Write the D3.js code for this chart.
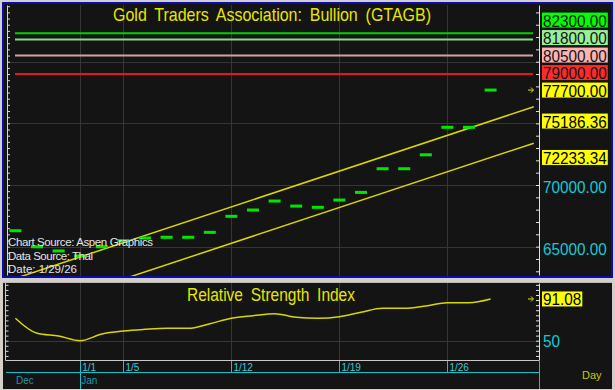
<!DOCTYPE html>
<meta charset="utf-8">
<title>Gold Traders Association: Bullion (GTAGB)</title>
<style>

body {
  margin: 0;
  background: #d4d0c8;
}

svg {
  display: block;
  font-family: "Liberation Sans", Arial, sans-serif;
}

</style>
<body>
<script src="https://d3js.org/d3.v7.min.js"></script>
<script>

// trading days shown on the chart (index = position on the x axis)
var days = ["12/29", "12/30", "12/31", "1/1", "1/2", "1/5", "1/6", "1/7", "1/8", "1/9",
  "1/12", "1/13", "1/14", "1/15", "1/16", "1/19", "1/20", "1/21", "1/22", "1/23",
  "1/26", "1/27", "1/28"];

var closes = [66290, 64990, 64650, 64240, 64990, 65480, 65700, 65760, 65760, 66160,
  67460, 67970, 68700, 68290, 68190, 68780, 69400, 71320, 71320, 72450,
  74680, 74680, 77700];

var rsi = [72.1, 57.3, 54.6, 50.0, 56.6, 59.6, 61.2, 62.2, 62.2, 66.7,
  72.1, 74.6, 76.6, 73.0, 72.1, 73.6, 78.0, 81.9, 81.9, 84.2,
  87.4, 87.4, 91.08];

var weekTicks = ["1/1", "1/5", "1/12", "1/19", "1/26"];
var monthNames = ["Dec", "Jan"];
var monthStarts = ["12/29", "1/1"];

// horizontal price levels
var levels = [82300, 81800, 80500, 79000];
var levelLine = ["#00d000", "#86dc86", "#d0a4a4", "#e41818"];
var levelBox = ["#00ff00", "#98f098", "#ffb4b4", "#ff2a2a"];

// regression channel: [day index, value] at both ends
var channelUpper = [[0, 62426.36], [24, 76346.36]];
var channelLower = [[0, 59473.34], [24, 73393.34]];
var channelAtLast = [75186.36, 72233.34];

var priceTicks = [65000, 70000, 75000, 80000];
var rsiTicks = [50];

var notes = ["Chart Source: Aspen Graphics", "Data Source: Thai", "Date: 1/29/26"];

var svg = d3.select("body")
  .append("svg")
  .attr("width", 615)
  .attr("height", 390);

var left = 7, right = 539;
var lastIdx = days.length - 1;

var x = d3.scaleLinear().domain([0, 24]).range([15.4, 533.8]);
var y = d3.scaleLinear().domain([62700, 84600]).range([275, 5]);
var yr = d3.scaleLinear().domain([31, 106.8]).range([360, 283]);

function dx(day) { return x(days.indexOf(day)); }

// panels
svg.append("rect")
  .attr("x", 3).attr("y", 3).attr("width", 609).attr("height", 274)
  .attr("fill", "#141414")
  .attr("stroke", "#0c0cb4").attr("stroke-width", 2);

svg.append("rect")
  .attr("x", 3).attr("y", 282).attr("width", 609).attr("height", 107)
  .attr("fill", "#141414");
svg.append("line")
  .attr("x1", 3).attr("x2", 612).attr("y1", 282.5).attr("y2", 282.5)
  .attr("stroke", "#b8b8b8");

var defs = svg.append("defs");
defs.append("clipPath").attr("id", "clipMain")
  .append("rect").attr("x", left).attr("y", 5).attr("width", right - left).attr("height", 271);
defs.append("clipPath").attr("id", "clipRsi")
  .append("rect").attr("x", left).attr("y", 283).attr("width", right - left).attr("height", 77);

// grid
var grid = svg.append("g").attr("stroke", "#363636").attr("stroke-width", 1);
grid.selectAll(".hg").data(priceTicks).enter().append("line")
  .attr("x1", left).attr("x2", right)
  .attr("y1", function(d) { return Math.round(y(d)) + 0.5; })
  .attr("y2", function(d) { return Math.round(y(d)) + 0.5; });
grid.selectAll(".vg").data(weekTicks).enter().append("line")
  .attr("x1", function(d) { return Math.round(dx(d)) + 0.5; })
  .attr("x2", function(d) { return Math.round(dx(d)) + 0.5; })
  .attr("y1", 5).attr("y2", 276);
grid.selectAll(".rg").data(rsiTicks).enter().append("line")
  .attr("x1", left).attr("x2", right)
  .attr("y1", function(d) { return Math.round(yr(d)) + 0.5; })
  .attr("y2", function(d) { return Math.round(yr(d)) + 0.5; });
grid.selectAll(".rvg").data(weekTicks).enter().append("line")
  .attr("x1", function(d) { return Math.round(dx(d)) + 0.5; })
  .attr("x2", function(d) { return Math.round(dx(d)) + 0.5; })
  .attr("y1", 283).attr("y2", 360);

// main panel marks
var main = svg.append("g").attr("clip-path", "url(#clipMain)");

main.selectAll(".level").data(levels).enter().append("line")
  .attr("x1", 15).attr("x2", 533)
  .attr("y1", function(d) { return y(d); })
  .attr("y2", function(d) { return y(d); })
  .attr("stroke", function(d, i) { return levelLine[i]; })
  .attr("stroke-width", 2);

var chanLine = d3.line()
  .x(function(d) { return x(d[0]); })
  .y(function(d) { return y(d[1]); });

main.selectAll(".chan").data([channelUpper, channelLower]).enter().append("path")
  .attr("d", chanLine)
  .attr("fill", "none")
  .attr("stroke", "#d8d800")
  .attr("stroke-width", 1.5);

main.selectAll(".bar").data(closes).enter().append("rect")
  .attr("x", function(d, i) { return x(i) - 6; })
  .attr("y", function(d) { return y(d) - 1.5; })
  .attr("width", 12).attr("height", 3)
  .attr("fill", "#00e600");

// left tick axis (main)
svg.append("g")
  .attr("transform", "translate(" + left + ",0)")
  .call(d3.axisRight(y).tickValues(d3.range(63000, 84600, 500)).tickSize(3).tickSizeOuter(0).tickFormat(""))
  .call(function(g) { g.selectAll("line,path").attr("stroke", "#d8d8d8"); });

// right tick axis (main)
svg.append("g")
  .attr("transform", "translate(" + right + ",0)")
  .call(d3.axisLeft(y).tickValues(d3.range(63000, 84600, 1000)).tickSize(3).tickSizeOuter(0).tickFormat(""))
  .call(function(g) { g.selectAll("line,path").attr("stroke", "#e0e0e0"); });

// title
svg.append("text")
  .attr("x", 113).attr("y", 21)
  .attr("textLength", 318).attr("lengthAdjust", "spacingAndGlyphs")
  .attr("fill", "#e6e600")
  .attr("font-size", 19)
  .attr("word-spacing", 4)
  .text("Gold Traders Association: Bullion (GTAGB)");

// notes lower left
svg.selectAll(".note").data(notes).enter().append("text")
  .attr("x", 8)
  .attr("y", function(d, i) { return [246, 259.5, 273][i]; })
  .attr("textLength", function(d, i) { return [145, 85, 69][i]; })
  .attr("lengthAdjust", "spacing")
  .attr("fill", "#e4e4e4")
  .attr("font-size", 11.5)
  .text(function(d) { return d; });

// value labels on the right, stacked so they do not overlap
var valueLabels = levels.map(function(v, i) { return {v: v, text: v.toFixed(2), bg: levelBox[i], fg: "#141414"}; })
  .concat([{v: closes[lastIdx], text: closes[lastIdx].toFixed(2), bg: "#ffff00", fg: "#000", arrow: true}])
  .concat(channelAtLast.map(function(v) { return {v: v, text: v.toFixed(2), bg: "#ffff00", fg: "#000"}; }));

valueLabels.forEach(function(d) { d.y = y(d.v); });
valueLabels.sort(function(a, b) { return b.y - a.y; });
var gap = 17.5;
for (var i = 1; i < valueLabels.length; i++) {
  valueLabels[i].y = Math.min(valueLabels[i].y, valueLabels[i - 1].y - gap);
}

function drawLabel(g, d, size) {
  var t = g.append("text")
    .attr("x", 543).attr("y", d.y + 6.5)
    .attr("font-size", size)
    .attr("fill", d.fg)
    .text(d.text);
  var w = t.node().getComputedTextLength() * 0.9;
  t.attr("textLength", w).attr("lengthAdjust", "spacingAndGlyphs");
  if (d.bg) {
    g.insert("rect", "text")
      .attr("x", 542).attr("y", d.y - 7.5)
      .attr("width", w + 2).attr("height", 15)
      .attr("fill", d.bg);
  }
  if (d.arrow) {
    g.append("path")
      .attr("d", "M528," + d.y + "h5M531," + (d.y - 2.5) + "l2.5,2.5l-2.5,2.5")
      .attr("fill", "none").attr("stroke", "#e6e600");
  }
}

valueLabels.forEach(function(d) { drawLabel(svg.append("g"), d, 17); });

// axis numbers that have room
priceTicks.forEach(function(v) {
  var free = valueLabels.every(function(d) { return Math.abs(d.y - y(v)) > 16; });
  if (free) drawLabel(svg.append("g"), {y: y(v) + 1.5, text: v.toFixed(2), fg: "#16c8d4"}, 17);
});

// RSI panel
svg.append("path")
  .attr("d", "M5.5,283V360.5H" + right)
  .attr("fill", "none").attr("stroke", "#c8c8c8");

svg.append("g")
  .attr("transform", "translate(5.5,0)")
  .call(d3.axisRight(yr).tickValues(d3.range(35, 106, 5)).tickSize(3).tickSizeOuter(0).tickFormat(""))
  .call(function(g) { g.select("path").remove(); g.selectAll("line").attr("stroke", "#d8d8d8"); });

svg.append("g")
  .attr("transform", "translate(" + right + ",0)")
  .call(d3.axisLeft(yr).tickValues(d3.range(35, 106, 5)).tickSize(3).tickSizeOuter(0).tickFormat(""))
  .call(function(g) { g.selectAll("line,path").attr("stroke", "#e0e0e0"); });

svg.append("g").attr("clip-path", "url(#clipRsi)")
  .append("path")
  .datum(rsi)
  .attr("d", d3.line()
    .x(function(d, i) { return x(i); })
    .y(function(d) { return yr(d); })
    .curve(d3.curveMonotoneX))
  .attr("fill", "none")
  .attr("stroke", "#d8d800")
  .attr("stroke-width", 1.5);

svg.append("text")
  .attr("x", 187).attr("y", 301)
  .attr("textLength", 168).attr("lengthAdjust", "spacingAndGlyphs")
  .attr("fill", "#e6e600")
  .attr("font-size", 18)
  .attr("word-spacing", 4)
  .text("Relative Strength Index");

drawLabel(svg.append("g"), {y: yr(rsi[lastIdx]), text: rsi[lastIdx].toFixed(2), bg: "#ffff00", fg: "#000", arrow: true}, 17);
rsiTicks.forEach(function(v) {
  drawLabel(svg.append("g"), {y: yr(v), text: String(v), fg: "#16c8d4"}, 17);
});

// date axis
var cyan = "#18c0c8";
var dateAxis = svg.append("g").attr("stroke", cyan);
dateAxis.append("line")
  .attr("x1", 6).attr("x2", right).attr("y1", 372.5).attr("y2", 372.5);
dateAxis.append("line")
  .attr("x1", right + 0.5).attr("x2", right + 0.5).attr("y1", 360).attr("y2", 389);
dateAxis.selectAll(".wt").data(weekTicks).enter().append("line")
  .attr("x1", function(d) { return Math.round(dx(d)) + 0.5; })
  .attr("x2", function(d) { return Math.round(dx(d)) + 0.5; })
  .attr("y1", 361)
  .attr("y2", function(d) { return monthStarts.indexOf(d) > 0 ? 389 : 372; });

svg.selectAll(".wl").data(weekTicks).enter().append("text")
  .attr("x", function(d) { return dx(d) + 2; })
  .attr("y", 371)
  .attr("font-size", 10)
  .attr("fill", "#3cc8d0")
  .text(function(d) { return d; });

svg.selectAll(".ml").data(monthNames).enter().append("text")
  .attr("x", function(d, i) { return i === 0 ? 16 : dx(monthStarts[i]) + 1; })
  .attr("y", 384)
  .attr("font-size", 10)
  .attr("fill", "#1c98a8")
  .text(function(d) { return d; });

svg.append("text")
  .attr("x", 582).attr("y", 379)
  .attr("font-size", 11)
  .attr("fill", "#c8c800")
  .text("Day");

</script>
</body>
